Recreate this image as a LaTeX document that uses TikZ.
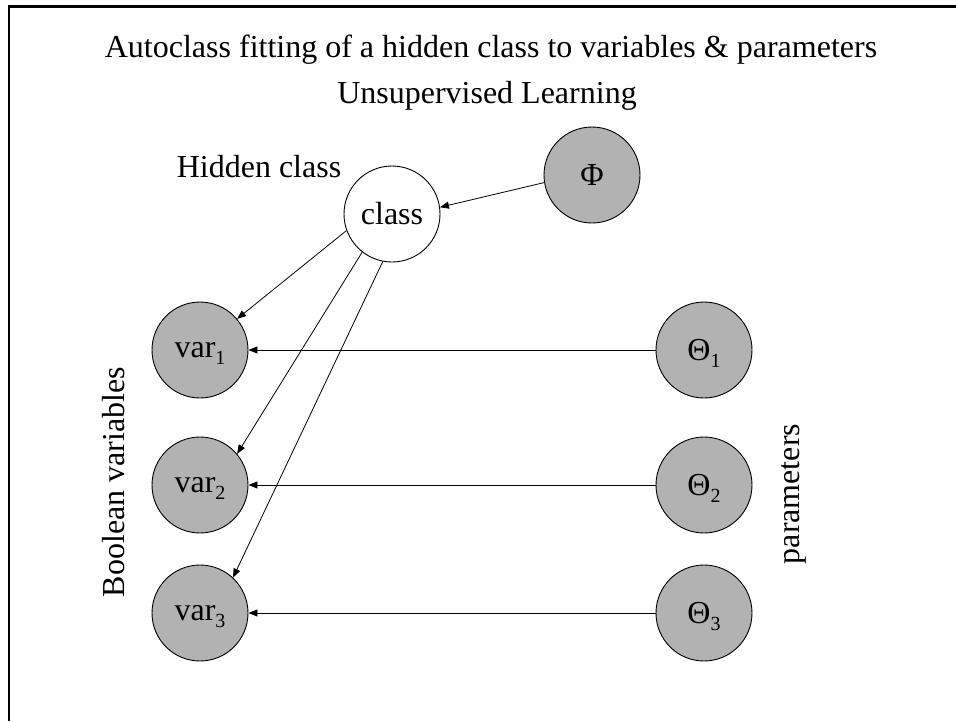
\documentclass[tikz,border=0pt]{standalone}
\usepackage{fontspec}
\setmainfont{Liberation Serif}
\usetikzlibrary{arrows.meta}
\newcommand{\lowidx}[1]{\raisebox{-7pt}[0pt][0pt]{\fontsize{20}{20}\selectfont #1}}
\begin{document}
\begin{tikzpicture}[x=1pt,y=-1pt,
  every node/.style={font=\fontsize{32}{38}\selectfont},
  bubble/.style={circle,draw,line width=0.9pt,minimum size=96pt,inner sep=0pt},
  observed/.style={bubble,fill=black!30},
  hidden/.style={bubble,fill=white},
  link/.style={line width=0.8pt,-{Triangle[length=9pt,width=7pt]}}]
\useasboundingbox (0,0) rectangle (956,721);
% open frame: top and left rules
\draw[line width=2.5pt] (9,721) -- (9,6.5) -- (956,6.5);
% headings
\node[anchor=base] (title) at (491,57) {Autoclass fitting of a hidden class to variables \& parameters};
\node[anchor=base] (subtitle) at (487,103) {Unsupervised Learning};
% hidden class and its prior
\node[hidden] (class) at (392,214) {class};
\node[observed] (phi) at (592,175) {Φ};
\node[anchor=base] (hiddenlbl) at (259,177) {Hidden class};
% variables and parameters
\node[observed] (v1) at (200,350) {var\lowidx{1}};
\node[observed] (v2) at (200,485) {var\lowidx{2}};
\node[observed] (v3) at (200,613) {var\lowidx{3}};
\node[observed] (t1) at (704,350) {Θ\lowidx{1}};
\node[observed] (t2) at (704,485) {Θ\lowidx{2}};
\node[observed] (t3) at (704,613) {Θ\lowidx{3}};
\node[rotate=90,anchor=base] (boolbl) at (124,482) {Boolean variables};
\node[rotate=90,anchor=base] (parlbl) at (799,494) {parameters};
% connectors
\draw[link] (phi.189.5) -- (class.8);
\draw[link] (class.200) -- (v1.40);
\draw[link] (class.232) -- (v2.40);
\draw[link] (class.259) -- (v3.47);
\draw[link] (t1) -- (v1);
\draw[link] (t2) -- (v2);
\draw[link] (t3) -- (v3);
\end{tikzpicture}
\end{document}
